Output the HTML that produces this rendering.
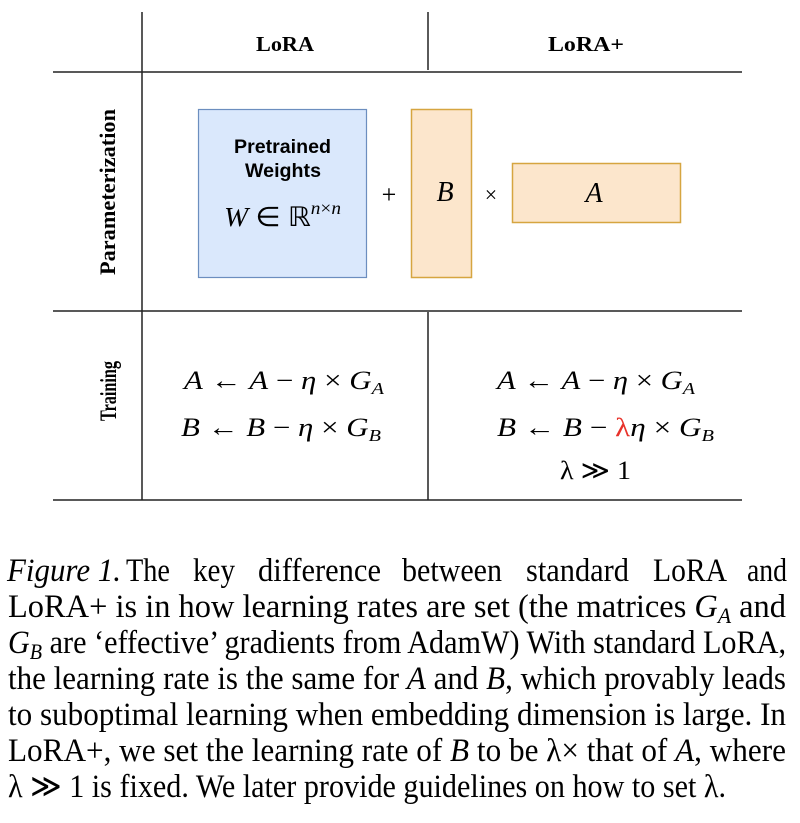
<!DOCTYPE html>
<html><head><meta charset="utf-8"><style>
html,body{margin:0;padding:0;background:#fff;}
svg{display:block;}
text{font-family:"Liberation Serif",serif;fill:#000;}
.it{font-style:italic;}
</style></head><body>
<svg width="800" height="823" viewBox="0 0 800 823" xmlns="http://www.w3.org/2000/svg">
<g stroke="#222" stroke-width="1.5" fill="none">
<line x1="142" y1="12" x2="142" y2="500"/>
<line x1="428" y1="12" x2="428" y2="70"/>
<line x1="428" y1="312" x2="428" y2="500"/>
<line x1="53" y1="72" x2="742" y2="72"/>
<line x1="53" y1="311" x2="742" y2="311"/>
<line x1="53" y1="500" x2="742" y2="500"/>
</g>
<rect x="198.5" y="109.5" width="168" height="168" fill="#dae8fc" stroke="#6c8ebf" stroke-width="1.2"/>
<rect x="411.5" y="109.5" width="60" height="168" fill="#fce6cc" stroke="#d6a540" stroke-width="1.5"/>
<rect x="512.5" y="163.5" width="168" height="59" fill="#fce6cc" stroke="#d6a540" stroke-width="1.5"/>
<text x="256" y="51" font-size="21" font-weight="bold" textLength="58" lengthAdjust="spacingAndGlyphs">LoRA</text>
<text x="548" y="51" font-size="21" font-weight="bold" textLength="76" lengthAdjust="spacingAndGlyphs">LoRA+</text>
<text transform="translate(115,192) rotate(-90)" font-size="22" font-weight="bold" text-anchor="middle" textLength="166" lengthAdjust="spacingAndGlyphs">Parameterization</text>
<text transform="translate(116,391) rotate(-90)" font-size="23" font-weight="bold" text-anchor="middle" textLength="60" lengthAdjust="spacingAndGlyphs">Training</text>
<text x="234" y="153" font-size="19" font-weight="bold" textLength="97" lengthAdjust="spacingAndGlyphs" style="font-family:'Liberation Sans',sans-serif">Pretrained</text>
<text x="245" y="177" font-size="19" font-weight="bold" textLength="76" lengthAdjust="spacingAndGlyphs" style="font-family:'Liberation Sans',sans-serif">Weights</text>
<text x="224" y="226" font-size="27" textLength="117" lengthAdjust="spacingAndGlyphs"><tspan class="it">W</tspan> ∈ ℝ<tspan class="it" font-size="18" dy="-12">n</tspan><tspan font-size="18">×</tspan><tspan class="it" font-size="18">n</tspan></text>
<text x="389" y="203" font-size="26" text-anchor="middle">+</text>
<text x="445" y="201" font-size="28" class="it" text-anchor="middle">B</text>
<text x="491" y="202" font-size="22" text-anchor="middle">×</text>
<text x="594" y="202" font-size="28" class="it" text-anchor="middle">A</text>

<text x="184" y="389" font-size="26" textLength="200" lengthAdjust="spacingAndGlyphs"><tspan class="it">A</tspan> ← <tspan class="it">A</tspan> − <tspan class="it">η</tspan> × <tspan class="it">G</tspan><tspan class="it" font-size="17" dy="5">A</tspan></text>
<text x="181" y="436" font-size="26" textLength="200" lengthAdjust="spacingAndGlyphs"><tspan class="it">B</tspan> ← <tspan class="it">B</tspan> − <tspan class="it">η</tspan> × <tspan class="it">G</tspan><tspan class="it" font-size="17" dy="5">B</tspan></text>
<text x="497" y="389" font-size="26" textLength="198" lengthAdjust="spacingAndGlyphs"><tspan class="it">A</tspan> ← <tspan class="it">A</tspan> − <tspan class="it">η</tspan> × <tspan class="it">G</tspan><tspan class="it" font-size="17" dy="5">A</tspan></text>
<text x="497" y="436" font-size="26" textLength="217" lengthAdjust="spacingAndGlyphs"><tspan class="it">B</tspan> ← <tspan class="it">B</tspan> − <tspan fill="#e8322a">λ</tspan><tspan class="it">η</tspan> × <tspan class="it">G</tspan><tspan class="it" font-size="17" dy="5">B</tspan></text>
<text x="560" y="479" font-size="26" textLength="71" lengthAdjust="spacingAndGlyphs">λ ≫ 1</text>

<g font-size="33">
<text x="7" y="581" class="it" textLength="114" lengthAdjust="spacingAndGlyphs">Figure 1.</text>
<text x="126" y="581" textLength="44" lengthAdjust="spacingAndGlyphs">The</text>
<text x="193" y="581" textLength="42" lengthAdjust="spacingAndGlyphs">key</text>
<text x="258" y="581" textLength="123" lengthAdjust="spacingAndGlyphs">difference</text>
<text x="402" y="581" textLength="100" lengthAdjust="spacingAndGlyphs">between</text>
<text x="526" y="581" textLength="103" lengthAdjust="spacingAndGlyphs">standard</text>
<text x="653" y="581" textLength="74" lengthAdjust="spacingAndGlyphs">LoRA</text>
<text x="747" y="581" textLength="40" lengthAdjust="spacingAndGlyphs">and</text>
<text x="8" y="617" textLength="778" lengthAdjust="spacingAndGlyphs">LoRA+ is in how learning rates are set (the matrices <tspan class="it">G</tspan><tspan class="it" font-size="22" dy="6">A</tspan><tspan dy="-6"> and</tspan></text>
<text x="8" y="653" textLength="778" lengthAdjust="spacingAndGlyphs"><tspan class="it">G</tspan><tspan class="it" font-size="22" dy="6">B</tspan><tspan dy="-6"> are ‘effective’ gradients from AdamW) With standard LoRA,</tspan></text>
<text x="8" y="689" textLength="778" lengthAdjust="spacingAndGlyphs">the learning rate is the same for <tspan class="it">A</tspan> and <tspan class="it">B</tspan>, which provably leads</text>
<text x="8" y="725" textLength="778" lengthAdjust="spacingAndGlyphs">to suboptimal learning when embedding dimension is large.  In</text>
<text x="8" y="761" textLength="778" lengthAdjust="spacingAndGlyphs">LoRA+, we set the learning rate of <tspan class="it">B</tspan> to be λ× that of <tspan class="it">A</tspan>, where</text>
<text x="8" y="797" textLength="718" lengthAdjust="spacingAndGlyphs">λ ≫ 1 is fixed. We later provide guidelines on how to set λ.</text>
</g>
</svg>
</body></html>
